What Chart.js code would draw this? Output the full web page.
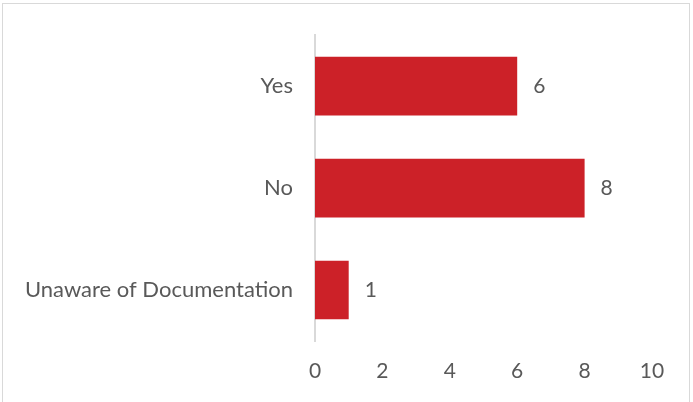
<!DOCTYPE html>
<html>
<head>
<meta charset="utf-8">
<script src="https://cdn.jsdelivr.net/npm/chart.js@4/dist/chart.umd.min.js"></script>
<style>
    html, body { margin: 0; padding: 0; background: #fff; }
    #wrap { position: relative; width: 693px; height: 402px; overflow: hidden; }
    #frame { position: absolute; left: 2px; top: 3px; width: 688px; height: 420px; border: 1px solid #d9d9d9; box-sizing: border-box; pointer-events: none; }
</style>
</head>
<body>
<div id="wrap">
    <canvas id="chart_docs" width="693" height="402"></canvas>
    <div id="frame"></div>
</div>
<script>
'use strict';
const categories = ['Yes', 'No', 'Unaware of Documentation'];
const counts = [6, 8, 1];
const xTicks = [0, 2, 4, 6, 8, 10];

const BAR_RED = '#cc2128';
const TEXT_GREY = '#595959';
const FONT = 'Lato, "Open Sans", sans-serif';

// value labels next to the bar ends
const barLabels = {
    id: 'barLabels',
    afterDatasetsDraw(chart) {
        let ctx = chart.ctx,
            meta = chart.getDatasetMeta(0);
        ctx.save();
        ctx.font = '21px ' + FONT;
        ctx.fillStyle = TEXT_GREY;
        ctx.textAlign = 'left';
        ctx.textBaseline = 'middle';
        meta.data.forEach((bar, i) => {
            ctx.fillText(String(counts[i]), bar.x + 16, bar.y);
        });
        ctx.restore();
    }
};

let ctx = document.getElementById('chart_docs').getContext('2d');
window.ChartDocs = new Chart(ctx, {
    type: 'bar',
    data: {
        labels: categories,
        datasets: [{
            data: counts,
            backgroundColor: BAR_RED,
            borderWidth: 0,
            barPercentage: 0.575,
            categoryPercentage: 1
        }]
    },
    options: {
        indexAxis: 'y',
        responsive: false,
        animation: false,
        layout: {padding: {top: 28, right: 41, left: 0, bottom: 0}},
        plugins: {
            legend: {display: false},
            tooltip: {enabled: false}
        },
        scales: {
            x: {
                min: 0,
                max: 10,
                afterBuildTicks: scale => {
                    scale.ticks = xTicks.map(v => ({value: v}));
                },
                grid: {display: false, drawTicks: false},
                border: {display: false},
                ticks: {
                    color: TEXT_GREY,
                    font: {family: FONT, size: 21},
                    padding: 18
                },
                afterFit: scale => { scale.height = 61; }
            },
            y: {
                grid: {display: false, drawTicks: false},
                border: {display: true, color: '#d9d9d9', width: 2},
                ticks: {
                    color: TEXT_GREY,
                    font: {family: FONT, size: 22},
                    padding: 22
                },
                afterFit: scale => { scale.width = 315; }
            }
        }
    },
    plugins: [barLabels]
});
</script>
</body>
</html>
